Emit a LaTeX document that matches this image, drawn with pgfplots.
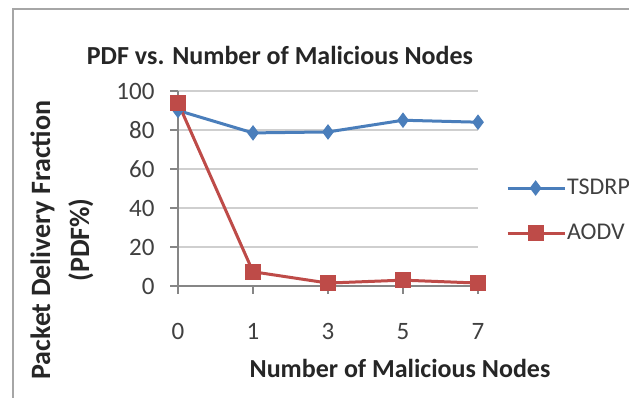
\documentclass[border=0pt]{standalone}
\usepackage{pgfplots}
\pgfplotsset{compat=1.18}
\usepackage{fontspec}
\setmainfont{Carlito}
\definecolor{tsblue}{HTML}{4A7EBB}
\definecolor{aored}{HTML}{BE4B48}
\definecolor{axgray}{HTML}{868686}
\definecolor{grgray}{HTML}{CFCFCF}
\begin{document}
\begin{tikzpicture}[x=1pt,y=1pt]
\useasboundingbox (0,0) rectangle (629,398);
\clip (0,0) rectangle (629,398);
\fill[white] (0,0) rectangle (629,398);
\draw[line width=2pt, black!35] (13,-20) rectangle (700,389);
\begin{axis}[
  at={(178pt,112pt)}, anchor=south west,
  width=300pt, height=195pt, scale only axis,
  xmin=0, xmax=4, ymin=0, ymax=100,
  axis x line*=bottom, axis y line*=left,
  xtick={0,1,2,3,4}, xticklabels={0,1,3,5,7},
  ytick={0,20,40,60,80,100},
  ymajorgrids, grid style={grgray, line width=1.2pt},
  tick align=outside, major tick length=8pt,
  axis line style={axgray, line width=1.2pt},
  tick style={axgray, line width=1.2pt},
  tick label style={font=\fontsize{25}{25}\selectfont, text=black!75},
  /pgf/number format/assume math mode=true,
  x tick label style={yshift=-26pt},
  y tick label style={xshift=-12pt},
  clip=false,
  legend style={draw=none, fill=none, at={(1.083,0.387)}, anchor=west,
    font=\fontsize{24}{24}\selectfont, text=black!75,
    row sep=17pt, nodes={inner sep=1pt, text height=19pt, text depth=7pt}},
  legend cell align=left,
  legend image code/.code={\draw[mark repeat=2, mark phase=2, #1] plot coordinates {(0pt,0pt)(28pt,0pt)(57pt,0pt)};},
]
\addplot[tsblue, line width=3pt, mark=diamond*, mark size=7pt, mark options={fill=tsblue, line width=1pt}]
  coordinates {(0,90)(1,78.5)(2,79)(3,85)(4,84)};
\addlegendentry{TSDRP}
\addplot[aored, line width=3pt, mark=square*, mark size=7.5pt, mark options={fill=aored, line width=1pt}]
  coordinates {(0,94)(1,7.3)(2,1.5)(3,3)(4,1.5)};
\addlegendentry{AODV}
\end{axis}
\node[font=\fontsize{26}{26}\selectfont\bfseries, text=black!85] at (280,343) {PDF vs. Number of Malicious Nodes};
\node[font=\fontsize{26}{26}\selectfont\bfseries, text=black!85] at (400,30) {Number of Malicious Nodes};
\node[rotate=90, align=center, font=\fontsize{28}{39}\selectfont\bfseries, text=black!85] at (62,158) {Packet Delivery Fraction\\(PDF\%)};
\end{tikzpicture}
\end{document}
